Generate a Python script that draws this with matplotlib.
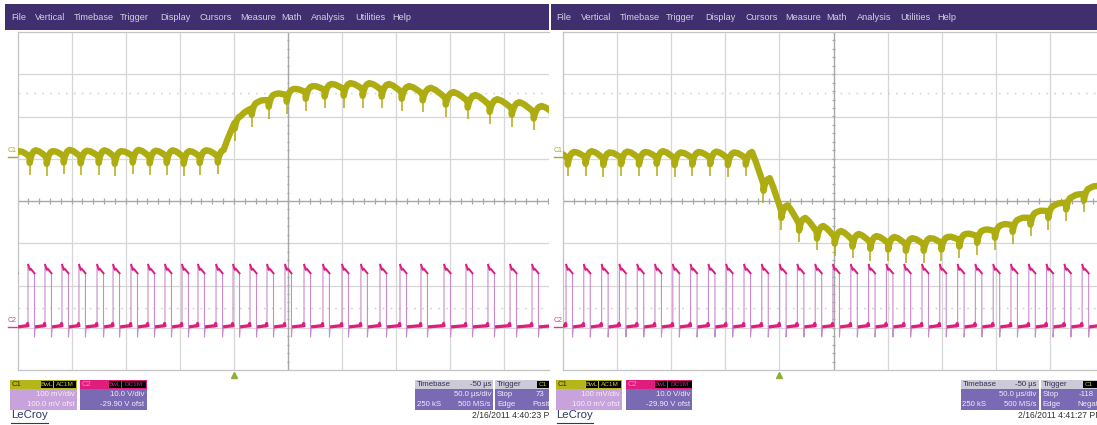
import numpy as np
import matplotlib
matplotlib.use("Agg")
import matplotlib.pyplot as plt
from matplotlib.patches import Rectangle
import matplotlib.transforms as mtransforms

plt.rcParams['font.family'] = ['Liberation Sans', 'DejaVu Sans']

# ---------------- data ----------------
menu_items = ["File", "Vertical", "Timebase", "Trigger", "Display", "Cursors",
              "Measure", "Math", "Analysis", "Utilities", "Help"]

time_per_div_us = 50.0
n_div_x = 10
n_div_y = 8
trigger_time_us = 200.0

# switching-pulse rising edges (µs from left grid edge)
left_pulse_t = [-6.0, 9.7, 25.4, 41.1, 56.8, 73.5, 88.3, 104.9, 120.6, 136.3,
                152.0, 166.8, 183.5, 199.2, 214.9, 230.6, 247.2, 264.8, 282.3,
                299.9, 317.4, 335.0, 353.5, 372.9, 394.2, 414.5, 434.8, 455.2,
                475.5, 496.0]
# C1 ripple crest level for each switching period (divisions)
left_c1_level = [1.18, 1.20, 1.18, 1.21, 1.19, 1.20, 1.18, 1.21, 1.19, 1.20,
                 1.18, 1.20, 1.21, 2.01, 2.34, 2.53, 2.65, 2.72, 2.77, 2.79,
                 2.79, 2.77, 2.72, 2.68, 2.58, 2.51, 2.41, 2.34, 2.25, 2.18]

right_pulse_t = [-13.7, 2.8, 19.2, 35.7, 52.1, 68.6, 85.0, 101.5, 117.9, 134.4,
                 150.8, 167.3, 183.7, 200.2, 216.6, 233.1, 249.5, 266.0, 282.4,
                 298.9, 315.3, 331.8, 348.2, 364.7, 381.1, 397.6, 414.0, 430.5,
                 446.9, 463.4, 479.8, 496.2]
right_c1_level = [1.18, 1.16, 1.18, 1.15, 1.17, 1.16, 1.18, 1.15, 1.16, 1.17,
                  1.15, 1.16, 0.54, -0.10, -0.40, -0.59, -0.71, -0.78, -0.83,
                  -0.85, -0.88, -0.88, -0.85, -0.78, -0.69, -0.57, -0.43,
                  -0.26, -0.10, 0.10, 0.31, 0.50]

c2_low_div = -2.98
c2_high_div = -1.55
c1_marker_div = 1.05
c2_marker_div = -2.99
cursor_levels_div = [2.55, -2.53]

c1_info = ["100 mV/div", "100.0 mV ofst"]
c2_info = ["10.0 V/div", "-29.90 V ofst"]
timebase_info = ["-50 µs", "50.0 µs/div", "250 kS", "500 MS/s"]
left_trigger_info = ["73", "Positive"]
right_trigger_info = ["-118", "Negative"]
timestamps = ["2/16/2011 4:40:23 PM", "2/16/2011 4:41:27 PM"]

# ---------------- styling ----------------
W, H = 1097, 425
MENU = '#3F2F6E'
MENU_TXT = '#D4D0E4'
GRID = '#D6D6D6'
AXISC = '#A8A8A8'
C1 = '#ADAD12'
C2 = '#E01C7C'
C2_EDGE = '#C98BCB'
C1_BODY = '#C8A2DA'
PURPLE_BODY = '#7A69B3'
HDR_GRAY = '#CACAD8'
PX_PER_DIV_X = 54.1
PX_PER_DIV_Y = 42.25
MENU_X = [11, 35, 74, 120, 160, 200, 240, 281, 311, 355, 392]

# arch shape of one ripple period (fraction of period, depth below crest in div)
ARCH_U = [0.0, 0.05, 0.12, 0.22, 0.35, 0.55, 0.75, 0.92, 0.995]
ARCH_D = [0.30, 0.19, 0.10, 0.03, 0.0, 0.02, 0.07, 0.12, 0.15]

fig = plt.figure(figsize=(W / 100, H / 100), dpi=100)
fig.patch.set_facecolor('white')


def c1_path(pulses, levels, lag=1.6):
    xs, ys, spk_x, spk_y0, spk_y1 = [], [], [], [], []
    cusps = [p + lag for p in pulses]
    for i in range(len(cusps) - 1):
        c, cn = cusps[i], cusps[i + 1]
        P = cn - c
        L, Ln = levels[i], levels[i + 1]
        for u, d in zip(ARCH_U, ARCH_D):
            base = L if u <= 0.35 else L + (Ln - L) * (u - 0.35) / 0.65
            xs.append(c + u * P)
            ys.append(base - d)
        spk_x.append(c)
        spk_y0.append(L - 0.58)
        spk_y1.append(L - 0.1)
    return xs, ys, spk_x, spk_y0, spk_y1


def c2_path(pulses, width=6.0):
    thin_x, thin_y = [], []
    lows, tops = [], []
    prev_end = None
    for t in pulses:
        if prev_end is not None:
            lows.append(([prev_end, t - 0.8, t - 0.4, t],
                         [c2_low_div, c2_low_div + 0.03, c2_low_div + 0.08, c2_low_div]))
        tx = [t + 0.2, t + 0.9, t + 1.6, t + 2.4, t + width]
        ty = [c2_high_div + 0.04, c2_high_div - 0.02, c2_high_div - 0.08,
              c2_high_div - 0.05, c2_high_div - 0.16]
        tops.append((tx, ty))
        thin_x += [t, t] + tx + [t + width, t + width + 0.6]
        thin_y += [c2_low_div, c2_high_div + 0.04] + ty + [c2_low_div - 0.24, c2_low_div]
        prev_end = t + width + 0.6
    lows.append(([prev_end, prev_end + 30], [c2_low_div, c2_low_div]))
    return thin_x, thin_y, lows, tops


def draw_panel(x0, x1, off, pulses, levels, trig_info, stamp):
    # background/chrome axes in local pixel coordinates
    bg = fig.add_axes([x0 / W, 0, (x1 - x0) / W, 1])
    bg.set_xlim(x0 - off, x1 - off)
    bg.set_ylim(H, 0)
    bg.axis('off')

    bg.add_patch(Rectangle((5, 4), 620, 25.5, facecolor=MENU, edgecolor='none'))
    for name, mx in zip(menu_items, MENU_X):
        bg.text(mx, 17, name, color=MENU_TXT, fontsize=6.6, va='center', ha='left',
                clip_on=True)

    fs = 5.6
    # C1 box
    bg.add_patch(Rectangle((10, 380), 66.5, 8.5, facecolor='#B5B51C', edgecolor='none'))
    bg.add_patch(Rectangle((10, 388.5), 66.5, 21.5, facecolor=C1_BODY, edgecolor='none'))
    bg.text(12, 384.5, "C1", fontsize=fs, color='#303000', va='center')
    bg.add_patch(Rectangle((40.5, 381), 12, 6.8, facecolor='black', edgecolor='none'))
    bg.add_patch(Rectangle((53.5, 381), 22, 6.8, facecolor='black', edgecolor='none'))
    bg.text(46.5, 384.5, "BwL", fontsize=4.6, color='#C8C830', va='center', ha='center')
    bg.text(64.5, 384.5, "AC1M", fontsize=4.6, color='#C8C830', va='center', ha='center')
    bg.text(74.5, 394.5, c1_info[0], fontsize=fs, color='#F6EEFA', va='center', ha='right')
    bg.text(74.5, 404.5, c1_info[1], fontsize=fs, color='#F6EEFA', va='center', ha='right')
    # C2 box
    bg.add_patch(Rectangle((80, 380), 66.5, 8.5, facecolor=C2, edgecolor='none'))
    bg.add_patch(Rectangle((80, 388.5), 66.5, 21.5, facecolor=PURPLE_BODY, edgecolor='none'))
    bg.text(82, 384.5, "C2", fontsize=fs, color='#FF88C0', va='center')
    bg.add_patch(Rectangle((109, 381), 12, 6.8, facecolor='black', edgecolor='none'))
    bg.add_patch(Rectangle((122, 381), 24, 6.8, facecolor='black', edgecolor='none'))
    bg.text(115, 384.5, "BwL", fontsize=4.6, color=C2, va='center', ha='center')
    bg.text(134, 384.5, "DC1M", fontsize=4.6, color=C2, va='center', ha='center')
    bg.text(144.5, 394.5, c2_info[0], fontsize=fs, color='#F0ECFA', va='center', ha='right')
    bg.text(144.5, 404.5, c2_info[1], fontsize=fs, color='#F0ECFA', va='center', ha='right')
    # Timebase box
    bg.add_patch(Rectangle((415, 380), 78, 8.5, facecolor=HDR_GRAY, edgecolor='none'))
    bg.add_patch(Rectangle((415, 388.5), 78, 21.5, facecolor=PURPLE_BODY, edgecolor='none'))
    bg.text(417, 384.5, "Timebase", fontsize=fs, color='#303050', va='center')
    bg.text(491, 384.5, timebase_info[0], fontsize=fs, color='#303050', va='center', ha='right')
    bg.text(491, 394.5, timebase_info[1], fontsize=fs, color='#F0ECFA', va='center', ha='right')
    bg.text(417, 404.5, timebase_info[2], fontsize=fs, color='#F0ECFA', va='center')
    bg.text(491, 404.5, timebase_info[3], fontsize=fs, color='#F0ECFA', va='center', ha='right')
    # Trigger box (cut by the screenshot edge)
    bg.add_patch(Rectangle((495, 380), 80, 8.5, facecolor=HDR_GRAY, edgecolor='none'))
    bg.add_patch(Rectangle((495, 388.5), 80, 21.5, facecolor=PURPLE_BODY, edgecolor='none'))
    bg.text(497, 384.5, "Trigger", fontsize=fs, color='#303050', va='center')
    bg.add_patch(Rectangle((537, 381), 14, 6.8, facecolor='black', edgecolor='none'))
    bg.text(539, 384.5, "C1", fontsize=4.6, color='#C8C830', va='center', clip_on=True)
    bg.text(497, 394.5, "Stop", fontsize=fs, color='#F0ECFA', va='center')
    bg.text(533 if trig_info[0].startswith('-') else 536, 394.5, trig_info[0],
            fontsize=fs, color='#F0ECFA', va='center', clip_on=True)
    bg.text(497, 404.5, "Edge", fontsize=fs, color='#F0ECFA', va='center')
    bg.text(532, 404.5, trig_info[1], fontsize=fs, color='#F0ECFA', va='center', clip_on=True)
    # LeCroy logo + time stamp
    bg.text(11, 415.5, "LeCroy", fontsize=8.2, color='#2C3868', va='center')
    bg.plot([11, 47.5], [422.5, 422.5], color='#2C3868', lw=0.8)
    bg.text(472, 416, stamp, fontsize=6.2, color='#303030', va='center', clip_on=True)

    # ---------- scope screen ----------
    sx0 = 17.5 + off
    ax = fig.add_axes([sx0 / W, (H - 370) / H, (x1 - sx0) / W, 338 / H])
    tmax = (x1 - sx0) / PX_PER_DIV_X * time_per_div_us
    ax.set_xlim(0, tmax)
    ax.set_ylim(-n_div_y / 2, n_div_y / 2)
    ax.set_xticks([])
    ax.set_yticks([])
    ax.set_facecolor('white')
    for s in ['left', 'top', 'bottom']:
        ax.spines[s].set_color('#C4C4C4')
        ax.spines[s].set_linewidth(0.9)
    ax.spines['right'].set_visible(False)

    for k in range(1, n_div_x + 1):
        ax.axvline(k * time_per_div_us, color=GRID, lw=0.9, zorder=0)
    for k in range(-n_div_y // 2 + 1, n_div_y // 2):
        ax.axhline(k, color=GRID, lw=0.9, zorder=0)
    tc = n_div_x / 2 * time_per_div_us
    ax.axvline(tc, color=AXISC, lw=0.9, zorder=0.5)
    ax.axhline(0, color=AXISC, lw=0.9, zorder=0.5)
    mt = np.arange(0, n_div_x * time_per_div_us + 1, time_per_div_us / 5)
    ax.vlines(mt, -0.06, 0.06, color=AXISC, lw=0.9, zorder=0.5)
    my = np.arange(-n_div_y / 2, n_div_y / 2 + 0.01, 0.2)
    ax.hlines(my, tc - 1.3, tc + 1.3, color=AXISC, lw=0.9, zorder=0.5)
    for lv in cursor_levels_div:
        ax.axhline(lv, color='#CFCFCF', lw=1.0, ls=(0, (1.2, 4.5)), zorder=0.4)

    # C2 : gate pulses
    tx, ty, lows, tops = c2_path(pulses)
    ax.plot(tx, ty, color=C2_EDGE, lw=0.8, zorder=2)
    for lx, ly in lows:
        ax.plot(lx, ly, color=C2, lw=2.3, zorder=3, solid_capstyle='butt')
    for px_, py_ in tops:
        ax.plot(px_, py_, color=C2, lw=1.4, zorder=3)

    # C1 : output ripple
    cx, cy, sx, sy0, sy1 = c1_path(pulses, levels)
    ax.vlines(sx, sy0, sy1, color=C1, lw=1.1, zorder=4)
    ax.plot(cx, cy, color=C1, lw=4.6, zorder=4, solid_joinstyle='round')

    # trigger marker
    ax.plot([trigger_time_us], [-n_div_y / 2 - 0.11], marker='^', ms=4.2,
            color='#8CB03A', clip_on=False, zorder=5)
    # channel level markers
    tr = mtransforms.blended_transform_factory(ax.transAxes, ax.transData)
    dx = -9.5 / (x1 - sx0)
    ax.text(dx, c1_marker_div + 0.15, "C1", transform=tr, fontsize=5.0, color='#A8A820',
            va='center', ha='left', clip_on=False)
    ax.plot([dx, 0], [c1_marker_div, c1_marker_div], transform=tr, color='#A8A820',
            lw=1.0, clip_on=False)
    ax.text(dx, c2_marker_div + 0.17, "C2", transform=tr, fontsize=5.0, color='#D04090',
            va='center', ha='left', clip_on=False)
    ax.plot([dx, 0], [c2_marker_div, c2_marker_div], transform=tr, color='#D04090',
            lw=1.0, clip_on=False)
    return ax


draw_panel(0, 549, 0.0, left_pulse_t, left_c1_level, left_trigger_info, timestamps[0])
draw_panel(549, 1097, 545.5, right_pulse_t, right_c1_level, right_trigger_info, timestamps[1])

fig.savefig('out.png', dpi=100, facecolor='white')
